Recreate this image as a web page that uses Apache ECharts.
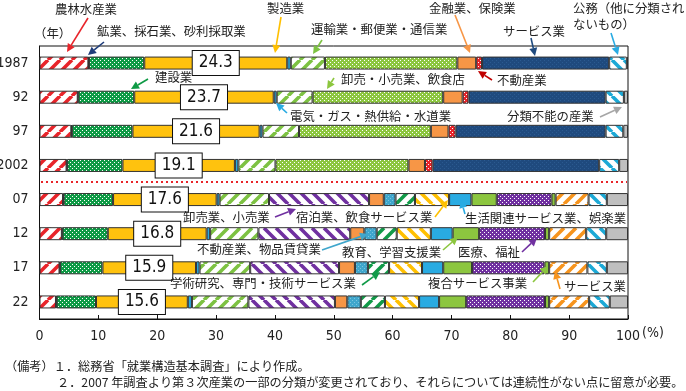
<!DOCTYPE html>
<html><head><meta charset="utf-8">
<script src="https://cdn.jsdelivr.net/npm/echarts@6/dist/echarts.min.js"></script>
<style>html,body{margin:0;padding:0;background:#fff}#c{width:686px;height:391px}</style>
</head><body><div id="c"></div>
<script>
// ---- data (percent shares) ----
const years = ['1987','92','97','2002','07','12','17','22'];
const xTicks = [0,10,20,30,40,50,60,70,80,90,100];
const agri          = [8.3, 6.5, 5.4, 4.6, 4.0, 3.8, 3.4, 2.8];
const mining        = [0.1, 0.1, 0.1, 0.1, 0.1, 0.1, 0.1, 0.1];
const construction  = [9.4, 9.5, 10.3, 9.4, 8.4, 7.7, 7.2, 6.7];
const manufacturing = [24.3, 23.7, 21.6, 19.1, 17.6, 16.8, 15.9, 15.6];
const utilities     = [0.6, 0.5, 0.5, 0.6, 0.5, 0.6, 0.6, 0.7];
const transport     = [5.8, 6.1, 6.2, 6.3, 8.4, 8.2, 8.6, 9.6];
const tradeOld      = [22.5, 22.2, 22.4, 22.6, '-', '-', '-', '-'];
const tradeNew      = ['-', '-', '-', '-', 17.0, 15.6, 15.1, 14.7];
const finance       = [3.2, 3.3, 3.0, 2.8, 2.5, 2.4, 2.7, 2.1];
const realEstateOld = [1.0, 1.0, 1.2, 1.3, '-', '-', '-', '-'];
const realEstateNew = ['-', '-', '-', '-', 2.0, 2.1, 2.2, 2.3];
const servicesOld   = [21.6, 23.3, 25.5, 28.3, '-', '-', '-', '-'];
const research      = ['-', '-', '-', '-', 3.3, 3.4, 3.6, 4.1];
const hospitality   = ['-', '-', '-', '-', 5.8, 5.8, 5.6, 5.8];
const living        = ['-', '-', '-', '-', 3.8, 3.7, 3.6, 3.4];
const education     = ['-', '-', '-', '-', 4.3, 4.5, 4.9, 4.6];
const medical       = ['-', '-', '-', '-', 9.3, 11.2, 12.3, 13.4];
const compound      = ['-', '-', '-', '-', 0.7, 0.7, 0.8, 0.7];
const servicesNew   = ['-', '-', '-', '-', 5.6, 6.3, 6.5, 6.8];
const government    = [3.0, 3.1, 3.0, 3.4, 3.1, 3.4, 3.3, 3.5];
const unclassified  = [0.2, 0.7, 0.8, 1.5, 3.6, 3.7, 3.6, 3.1];

// ---- patterns ----
function stripes(color, dir){
  const s = 12, c = document.createElement('canvas'); c.width = s; c.height = s;
  const g = c.getContext('2d'); g.fillStyle = '#fff'; g.fillRect(0,0,s,s);
  g.strokeStyle = color; g.lineWidth = 3.6; g.beginPath();
  for (const o of [-s, 0, s]) {
    if (dir === '/') { g.moveTo(o, s); g.lineTo(o + s, 0); }
    else { g.moveTo(o, 0); g.lineTo(o + s, s); }
  }
  g.stroke();
  return {image: c, repeat: 'repeat'};
}
function dots(color, dot){
  const s = 4, c = document.createElement('canvas'); c.width = s; c.height = s;
  const g = c.getContext('2d'); g.fillStyle = color; g.fillRect(0,0,s,s);
  g.fillStyle = dot || '#fff'; g.fillRect(0,0,1,1); g.fillRect(2,2,1,1);
  return {image: c, repeat: 'repeat'};
}

const JP = '"Noto Sans CJK JP","Noto Sans CJK SC",sans-serif';
const NARROW = '"Liberation Sans Narrow","DejaVu Sans Condensed","Roboto",sans-serif';

const defs = [
  ['農林水産業', agri, stripes('#E8242A','/')],
  ['鉱業、採石業、砂利採取業', mining, '#1F3D7A'],
  ['建設業', construction, dots('#0E9A45')],
  ['製造業', manufacturing, '#FFC20E'],
  ['電気・ガス・熱供給・水道業', utilities, '#29ABE2'],
  ['運輸業・郵便業・通信業', transport, stripes('#7DC242','/')],
  ['卸売・小売業、飲食店', tradeOld, dots('#8CC63F')],
  ['卸売業、小売業', tradeNew, stripes('#7030A0','\\')],
  ['金融業、保険業', finance, '#F79646'],
  ['不動産業', realEstateOld, dots('#E8242A')],
  ['不動産業、物品賃貸業', realEstateNew, dots('#3FA6CC','#7CC5E0')],
  ['サービス業（旧）', servicesOld, dots('#1F4A7E','#2B5A90')],
  ['学術研究、専門・技術サービス業', research, stripes('#119A48','/')],
  ['宿泊業、飲食サービス業', hospitality, stripes('#FFC000','\\')],
  ['生活関連サービス業、娯楽業', living, '#29ABE2'],
  ['教育、学習支援業', education, '#8CC63F'],
  ['医療、福祉', medical, dots('#7030A0')],
  ['複合サービス事業', compound, '#8CC63F'],
  ['サービス業', servicesNew, stripes('#F7941D','/')],
  ['公務（他に分類されないもの）', government, stripes('#1CA9D6','\\')],
  ['分類不能の産業', unclassified, '#BFBFBF']
];

const series = defs.map(([name, data, color]) => ({
  type: 'bar', name, data, stack: 'all', barWidth: 13,
  itemStyle: {color, borderColor: '#333', borderWidth: 1},
  emphasis: {disabled: true},
  label: name === '製造業' ? {
    show: true, position: 'inside', formatter: p => p.value.toFixed(1),
    backgroundColor: '#fff', borderColor: '#111', borderWidth: 1,
    padding: [4, 6, 3, 6], color: '#111', fontSize: 17, fontFamily: NARROW
  } : {show: false}
}));

// ---- annotations ----
const g = [];
function txt(t, x, y){
  g.push({type:'text', z:50, style:{text:t, x, y, fill:'#222', font:'12.4px ' + JP,
    align:'left', textAlign:'left', verticalAlign:'middle', textVerticalAlign:'middle'}});
}
function arrow(x1, y1, x2, y2, color){
  const a = Math.atan2(y2 - y1, x2 - x1), L = 8, W = 4;
  const bx = x2 - L*Math.cos(a), by = y2 - L*Math.sin(a);
  g.push({type:'line', z:50, shape:{x1, y1, x2:bx, y2:by}, style:{stroke:color, lineWidth:1.6}});
  g.push({type:'polygon', z:50, shape:{points:[[x2,y2],[bx + W*Math.sin(a), by - W*Math.cos(a)],[bx - W*Math.sin(a), by + W*Math.cos(a)]]}, style:{fill:color}});
}
txt('農林水産業', 55, 9);           arrow(88, 18, 67, 52, '#E8242A');
txt('（年）', 34, 33);
txt('鉱業、採石業、砂利採取業', 97, 31); arrow(104, 42, 88, 55, '#1F3D7A');
txt('製造業', 267, 8);              arrow(281, 17, 275, 53, '#FFC000');
txt('運輸業・郵便業・通信業', 311, 29); arrow(322, 40, 313, 54, '#7DC242');
txt('金融業、保険業', 429, 8);       arrow(455, 15, 470, 53, '#F79646');
txt('公務（他に分類され', 573, 8);
txt('ないもの）', 573, 24);          arrow(611, 33, 618, 55, '#29ABE2');
txt('サービス業', 503, 31);          arrow(531, 38, 535, 56, '#1F4A7E');
txt('不動産業', 497, 80);            arrow(492, 80, 478, 71, '#C00000');
txt('建設業', 155, 77);              arrow(148, 79, 131, 89, '#0E9A45');
txt('卸売・小売業、飲食店', 341, 79); arrow(334, 78, 327, 89, '#8CC63F');
txt('電気・ガス・熱供給・水道業', 290, 116); arrow(287, 113, 276, 103, '#29ABE2');
txt('分類不能の産業', 507, 116);     arrow(600, 117, 622, 107, '#A6A6A6');
txt('卸売業、小売業', 183, 217);     arrow(275, 217, 296, 209, '#7030A0');
txt('宿泊業、飲食サービス業', 296, 217); arrow(435, 217, 448, 200, '#FFC000');
txt('生活関連サービス業、娯楽業', 465, 218); arrow(465, 214, 461, 200, '#29ABE2');
txt('不動産業、物品賃貸業', 197, 249); arrow(322, 250, 368, 234, '#3FA6CC');
txt('教育、学習支援業', 342, 252);   arrow(443, 250, 458, 237, '#8CC63F');
txt('医療、福祉', 458, 252);         arrow(522, 252, 537, 238, '#7030A0');
txt('学術研究、専門・技術サービス業', 170, 283); arrow(362, 285, 380, 272, '#119A48');
txt('複合サービス事業', 428, 283);   arrow(533, 282, 548, 266, '#8CC63F');
txt('サービス業', 564, 286);         arrow(560, 289, 555, 271, '#F7941D');
// divider between old and new classifications
g.push({type:'line', z:40, shape:{x1:41, y1:182, x2:627, y2:182}, style:{stroke:'#E8242A', lineWidth:2.2, lineDash:[2,3]}});
// axis unit and notes
g.push({type:'text', z:50, style:{text:'(%)', x:642, y:333, fill:'#222', font:'14px ' + NARROW, verticalAlign:'middle', textVerticalAlign:'middle'}});
g.push({type:'text', z:50, style:{text:'（備考）１．総務省「就業構造基本調査」により作成。', x:5, y:366, fill:'#222', font:'12.2px ' + JP, verticalAlign:'middle', textVerticalAlign:'middle'}});
g.push({type:'text', z:50, style:{text:'２．2007 年調査より第３次産業の一部の分類が変更されており、それらについては連続性がない点に留意が必要。', x:57, y:382, fill:'#222', font:'12.2px ' + JP, verticalAlign:'middle', textVerticalAlign:'middle'}});

const chart = echarts.init(document.getElementById('c'), null, {renderer:'canvas'});
chart.setOption({
  animation: false,
  grid: {left: 39.5, right: 58, top: 46, bottom: 72, show: true, borderColor: '#111', borderWidth: 1, containLabel: false, outerBoundsMode: 'none'},
  xAxis: {
    type: 'value', min: xTicks[0], max: xTicks[xTicks.length - 1], interval: 10,
    axisLine: {show: true, lineStyle: {color: '#111'}},
    axisTick: {show: true, inside: true, length: 4, lineStyle: {color: '#111'}},
    splitLine: {show: false},
    axisLabel: {margin: 10, fontSize: 14, color: '#222', fontFamily: NARROW}
  },
  yAxis: {
    type: 'category', data: years, inverse: true,
    axisLine: {show: true, lineStyle: {color: '#111'}},
    axisTick: {show: false},
    axisLabel: {margin: 11, fontSize: 14, color: '#222', fontFamily: NARROW}
  },
  series,
  graphic: {elements: g}
});
</script></body></html>
